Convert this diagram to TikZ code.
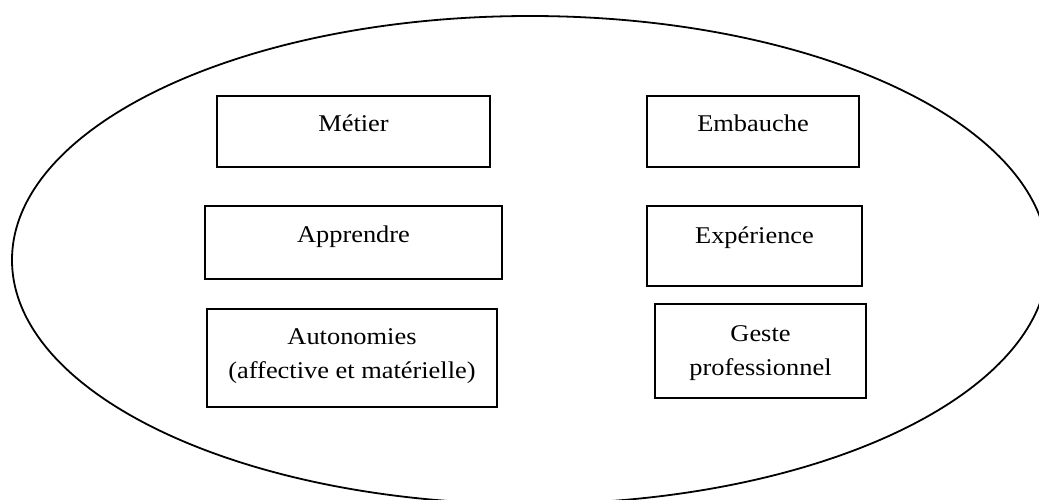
\documentclass[tikz,border=0pt]{standalone}
\usepackage{fontspec}
\setmainfont{Liberation Serif}[FakeStretch=1.1]
\begin{document}
\begin{tikzpicture}[x=1pt,y=-1pt,
  lw/.style={line width=1.8pt},
  lbl/.style={anchor=base,inner sep=0pt,align=center,font=\fontsize{24}{34}\selectfont}]
\useasboundingbox (0,0) rectangle (1039,500);
\begin{scope}
\clip (0,0) rectangle (1039,500);
\draw[lw] (530,260) ellipse [x radius=518, y radius=244];
\end{scope}
% boxes
\draw[lw] (217,96) rectangle (490,167) node[pos=0.5,inner sep=0pt] (b1) {};
\draw[lw] (647,96) rectangle (859,167) node[pos=0.5,inner sep=0pt] (b2) {};
\draw[lw] (205,206) rectangle (502,279) node[pos=0.5,inner sep=0pt] (b3) {};
\draw[lw] (647,206) rectangle (862,286) node[pos=0.5,inner sep=0pt] (b4) {};
\draw[lw] (207,309) rectangle (497,407) node[pos=0.5,inner sep=0pt] (b5) {};
\draw[lw] (655,304) rectangle (866,398) node[pos=0.5,inner sep=0pt] (b6) {};
% texts
\node[lbl] (t1) at (353.5,132) {Métier};
\node[lbl] (t2) at (753,132) {Embauche};
\node[lbl] (t3) at (353.5,242) {Apprendre};
\node[lbl] (t4) at (754.5,243) {Expérience};
\node[lbl] (t5) at (352,378) {Autonomies\\(affective et matérielle)};
\node[lbl] (t6) at (760.5,375) {Geste\\professionnel};
\end{tikzpicture}
\end{document}
